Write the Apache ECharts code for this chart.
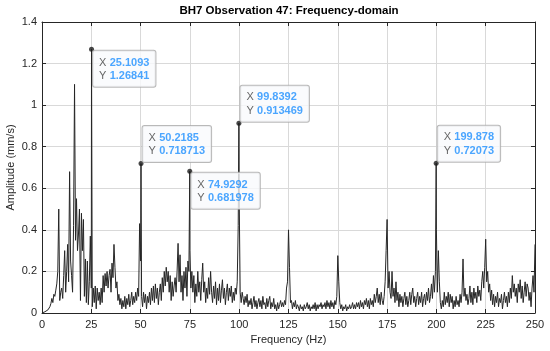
<!DOCTYPE html>
<html>
<head>
<meta charset="utf-8">
<script src="https://cdn.jsdelivr.net/npm/echarts@6/dist/echarts.min.js"></script>
<style>html,body{margin:0;padding:0;background:#fff}#c{width:550px;height:351px}</style>
</head>
<body>
<div id="c"></div>
<script>
const titleText = 'BH7 Observation 47: Frequency-domain';
const xName = 'Frequency (Hz)';
const yName = 'Amplitude (mm/s)';
const freqStep = 0.5;
// amplitude spectrum sampled every 0.5 Hz from 0 to 250 Hz (rows of 10 Hz)
const amp0to10   = [0,0.002,0.004,0.006,0.008,0.011,0.015,0.02,0.03,0.045,0.07,0.05,0.09,0.08,0.11,0.14,0.2,0.5,0.06,0.1];
const amp10to20  = [0.12,0.07,0.18,0.3,0.1,0.2,0.33,0.15,0.68,0.25,0.18,0.1,0.42,1.1,0.35,0.55,0.3,0.38,0.5,0.06];
const amp20to30  = [0.48,0.3,0.45,0.08,0.26,0.05,0.25,0.04,0.15,0.37,0.12,0.03,0.12,0.05,0.13,0.02,0.12,0.06,0.1,0.04];
const amp30to40  = [0.12,0.05,0.18,0.1,0.19,0.13,0.2,0.12,0.18,0.21,0.1,0.24,0.17,0.33,0.22,0.12,0.15,0.06,0.09,0.04];
const amp40to50  = [0.07,0.02,0.06,0.03,0.08,0.02,0.07,0.04,0.09,0.03,0.06,0.1,0.04,0.08,0.05,0.1,0.06,0.12,0.08,0.43];
const amp50to60  = [0.25,0.08,0.03,0.1,0.05,0.09,0.02,0.08,0.05,0.1,0.04,0.12,0.06,0.13,0.05,0.14,0.07,0.12,0.04,0.1];
const amp60to70  = [0.14,0.06,0.17,0.1,0.2,0.13,0.22,0.15,0.2,0.1,0.18,0.06,0.15,0.08,0.13,0.17,0.1,0.2,0.335,0.15];
const amp70to80  = [0.28,0.1,0.18,0.06,0.2,0.12,0.22,0.08,0.25,0.2,0.3,0.12,0.2,0.1,0.18,0.05,0.14,0.08,0.2,0.1];
const amp80to90  = [0.15,0.06,0.16,0.24,0.1,0.15,0.05,0.12,0.07,0.17,0.09,0.2,0.1,0.05,0.13,0.07,0.15,0.04,0.12,0.06];
const amp90to100 = [0.14,0.05,0.11,0.16,0.07,0.12,0.04,0.1,0.14,0.06,0.12,0.08,0.13,0.05,0.1,0.06,0.12,0.09,0.15,0.42];
const amp100to110= [0.55,0.1,0.05,0.1,0.07,0.04,0.08,0.05,0.09,0.03,0.06,0.04,0.07,0.02,0.05,0.08,0.03,0.06,0.02,0.05];
const amp110to120= [0.07,0.03,0.06,0.02,0.08,0.04,0.05,0.02,0.07,0.03,0.06,0.08,0.02,0.05,0.03,0.07,0.02,0.04,0.01,0.05];
const amp120to130= [0.02,0.04,0.06,0.03,0.05,0.03,0.06,0.04,0.12,0.15,0.4,0.22,0.05,0.06,0.02,0.05,0.03,0.06,0.02,0.04];
const amp130to140= [0.03,0.01,0.04,0.02,0.03,0.01,0.04,0.02,0.03,0.05,0.02,0.04,0.01,0.03,0.02,0.04,0.02,0.05,0.01,0.04];
const amp140to150= [0.02,0.04,0.03,0.05,0.02,0.04,0.03,0.05,0.02,0.06,0.03,0.05,0.02,0.06,0.03,0.05,0.02,0.06,0.04,0.08];
const amp150to160= [0.276,0.15,0.05,0.02,0.04,0.01,0.03,0.02,0.04,0.01,0.03,0.02,0.04,0.02,0.03,0.05,0.02,0.04,0.02,0.05];
const amp160to170= [0.03,0.05,0.02,0.06,0.03,0.05,0.02,0.06,0.04,0.07,0.03,0.06,0.02,0.07,0.04,0.06,0.03,0.09,0.05,0.08];
const amp170to180= [0.12,0.05,0.09,0.04,0.1,0.06,0.04,0.08,0.15,0.3,0.45,0.12,0.2,0.1,0.07,0.2,0.08,0.12,0.05,0.15];
const amp180to190= [0.06,0.1,0.03,0.09,0.05,0.08,0.03,0.07,0.1,0.04,0.08,0.03,0.06,0.1,0.04,0.09,0.12,0.05,0.08,0.03];
const amp190to200= [0.07,0.1,0.04,0.08,0.05,0.1,0.03,0.07,0.09,0.04,0.1,0.06,0.12,0.05,0.08,0.14,0.07,0.18,0.1,0.2];
const amp200to210= [0.4,0.1,0.3,0.15,0.05,0.02,0.06,0.03,0.1,0.04,0.08,0.05,0.1,0.03,0.09,0.05,0.08,0.02,0.06,0.03];
const amp210to220= [0.08,0.04,0.06,0.03,0.09,0.05,0.1,0.26,0.08,0.12,0.06,0.09,0.04,0.07,0.13,0.05,0.1,0.04,0.12,0.07];
const amp220to230= [0.1,0.05,0.13,0.08,0.11,0.06,0.15,0.2,0.12,0.22,0.355,0.15,0.2,0.1,0.14,0.06,0.11,0.04,0.09,0.03];
const amp230to240= [0.08,0.05,0.1,0.03,0.07,0.05,0.09,0.02,0.06,0.1,0.05,0.08,0.03,0.1,0.05,0.12,0.07,0.18,0.1,0.14];
const amp240to250= [0.08,0.12,0.05,0.14,0.1,0.16,0.07,0.13,0.05,0.1,0.15,0.08,0.14,0.12,0.06,0.1,0.03,0.12,0.18,0.1,0.33];

// data tips (peaks)
const tipFreq = [25.1093, 50.2185, 74.9292, 99.8392, 199.878];
const tipAmp  = [1.26841, 0.718713, 0.681978, 0.913469, 0.72073];
const tipBelow = [true, false, true, false, false];

const xTicks = [0,25,50,75,100,125,150,175,200,225,250];
const yTicks = [0,0.2,0.4,0.6,0.8,1,1.2,1.4];

const ampAll = [].concat(amp0to10,amp10to20,amp20to30,amp30to40,amp40to50,amp50to60,amp60to70,amp70to80,amp80to90,amp90to100,
  amp100to110,amp110to120,amp120to130,amp130to140,amp140to150,amp150to160,amp160to170,amp170to180,amp180to190,amp190to200,
  amp200to210,amp210to220,amp220to230,amp230to240,amp240to250);
let lineData = ampAll.map((a,i)=>[i*freqStep,a]);
tipFreq.forEach((f,i)=>lineData.push([f,tipAmp[i]]));
lineData.sort((a,b)=>a[0]-b[0]);

const fontFam = '"Liberation Sans", Arial, Helvetica, sans-serif';
const tipData = tipFreq.map((f,i)=>({
  value:[f,tipAmp[i]],
  label:{
    show:true,
    position: tipBelow[i] ? [4,4] : [4,1],
    align:'left',
    verticalAlign: tipBelow[i] ? 'top' : 'bottom',
    formatter: '{k|X} {v|' + f + '}\n{k|Y} {v|' + tipAmp[i] + '}',
    backgroundColor:'#f9fafc',
    borderColor:'#a8a8a8',
    borderWidth:1,
    borderRadius:2,
    padding:[5,6,4,6],
    rich:{
      k:{fontSize:11,color:'#404040',fontFamily:fontFam,lineHeight:13.5},
      v:{fontSize:11,color:'#1e90ff',fontWeight:'bold',fontFamily:fontFam,lineHeight:13.5}
    }
  }
}));

const axisCommon = {
  min:0,
  axisLine:{show:true,onZero:false,lineStyle:{color:'#262626',width:1}},
  axisTick:{show:true,inside:true,length:4,lineStyle:{color:'#262626'}},
};

const chart = echarts.init(document.getElementById('c'),null,{renderer:'canvas'});
chart.setOption({
  animation:false,
  backgroundColor:'#fff',
  title:{text:titleText,left:289,top:5,padding:0,textAlign:'center',
    textStyle:{fontSize:11.5,fontWeight:'bold',color:'#000',fontFamily:fontFam}},
  grid:{left:42,right:15,top:22,bottom:38,containLabel:false,outerBoundsMode:'none'},
  xAxis:[
    Object.assign({},axisCommon,{type:'value',max:250,interval:25,position:'bottom',
      name:xName,nameLocation:'middle',nameGap:21,nameMoveOverlap:false,
      nameTextStyle:{fontSize:11,color:'#262626',fontFamily:fontFam},
      axisLabel:{fontSize:11,color:'#262626',margin:6,fontFamily:fontFam,
        formatter:v=>xTicks.includes(v)?String(v):''},
      splitLine:{show:true,lineStyle:{color:'#d9d9d9',width:1,type:'solid'}}}),
    Object.assign({},axisCommon,{type:'value',max:250,interval:25,position:'top',
      axisLabel:{show:false},splitLine:{show:false}})
  ],
  yAxis:[
    Object.assign({},axisCommon,{type:'value',max:1.4,interval:0.2,position:'left',
      name:yName,nameLocation:'middle',nameGap:26,nameMoveOverlap:false,
      nameTextStyle:{fontSize:11,color:'#262626',fontFamily:fontFam},
      axisLabel:{fontSize:11,color:'#262626',margin:5,fontFamily:fontFam,
        formatter:v=>String(Math.round(v*10)/10)},
      splitLine:{show:true,lineStyle:{color:'#d9d9d9',width:1,type:'solid'}}}),
    Object.assign({},axisCommon,{type:'value',max:1.4,interval:0.2,position:'right',
      axisLabel:{show:false},splitLine:{show:false}})
  ],
  series:[
    {type:'line',data:lineData,showSymbol:false,symbol:'none',
      lineStyle:{color:'#262626',width:1},xAxisIndex:0,yAxisIndex:0,z:2},
    {type:'scatter',data:tipData,symbol:'circle',symbolSize:5,
      itemStyle:{color:'#1a1a1a'},xAxisIndex:0,yAxisIndex:0,z:5}
  ]
});
</script>
</body>
</html>
